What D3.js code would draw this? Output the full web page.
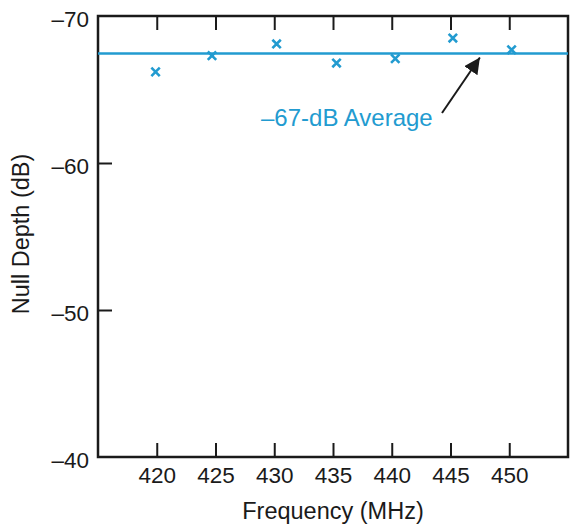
<!DOCTYPE html>
<html>
<head>
<meta charset="utf-8">
<script src="https://cdn.jsdelivr.net/npm/d3@7"></script>
<style>
  body { margin: 0; background: #fff; }
  svg text { font-family: "Liberation Sans", Arial, sans-serif; }
</style>
</head>
<body>
<div id="chart"></div>
<script>
// data
var freqs   = [419.9, 424.7, 430.2, 435.3, 440.3, 445.2, 450.2];
var depths  = [-66.2, -67.3, -68.1, -66.8, -67.1, -68.5, -67.7];
var average = -67.45;
var xTicks  = [420, 425, 430, 435, 440, 445, 450];
var yTicks  = [-70, -60, -50, -40];

var blue = '#229bd0';

var svgSize = { width: 571, height: 526 };
var plot = { left: 98, right: 568, top: 16, bottom: 457 };

var svg = d3.select('#chart').append('svg')
    .attr('width', svgSize.width)
    .attr('height', svgSize.height);

var x = d3.scaleLinear().domain([415, 455]).range([plot.left, plot.right]);
var y = d3.scaleLinear().domain([-70, -40]).range([plot.top, plot.bottom]);

var tickLen = 14;

// bottom axis, ticks pointing inward
var axBottom = svg.append('g')
    .attr('transform', 'translate(0,' + plot.bottom + ')')
    .call(d3.axisBottom(x).tickValues(xTicks).tickSizeInner(-tickLen).tickSizeOuter(0).tickPadding(10));
// top axis, no labels
var axTop = svg.append('g')
    .attr('transform', 'translate(0,' + plot.top + ')')
    .call(d3.axisTop(x).tickValues(xTicks).tickSizeInner(-tickLen).tickSizeOuter(0).tickFormat(''));
// left axis
var axLeft = svg.append('g')
    .attr('transform', 'translate(' + plot.left + ',0)')
    .call(d3.axisLeft(y).tickValues(yTicks).tickSizeInner(-tickLen).tickSizeOuter(0).tickPadding(9)
        .tickFormat(function(d) { return '\u2013' + Math.abs(d); }));

[axBottom, axTop, axLeft].forEach(function(g) {
    g.select('.domain').remove();
    g.selectAll('.tick line').attr('stroke', '#1a1a1a').attr('stroke-width', 2);
    g.selectAll('.tick text').attr('fill', '#1a1a1a').style('font-size', '22.5px');
});
axLeft.selectAll('.tick text').attr('dy', '0.45em');
axLeft.selectAll('.tick').filter(function(d) { return d === -70 || d === -40; }).select('line').remove();

// frame
svg.append('rect')
    .attr('x', plot.left).attr('y', plot.top)
    .attr('width', plot.right - plot.left).attr('height', plot.bottom - plot.top)
    .attr('fill', 'none').attr('stroke', '#1a1a1a').attr('stroke-width', 2.5);

// average line
svg.append('line')
    .attr('x1', plot.left).attr('x2', plot.right)
    .attr('y1', y(average)).attr('y2', y(average))
    .attr('stroke', blue).attr('stroke-width', 2.5);

// x markers
var r = 4.2;
svg.append('g').selectAll('path')
    .data(freqs.map(function(f, i) { return { f: f, v: depths[i] }; }))
    .enter().append('path')
    .attr('d', function(d) {
        var cx = x(d.f), cy = y(d.v);
        return 'M' + (cx - r) + ',' + (cy - r) + 'L' + (cx + r) + ',' + (cy + r) +
               'M' + (cx - r) + ',' + (cy + r) + 'L' + (cx + r) + ',' + (cy - r);
    })
    .attr('stroke', blue).attr('stroke-width', 2.6).attr('fill', 'none');

// annotation
svg.append('text')
    .attr('x', 261).attr('y', 126)
    .attr('fill', blue)
    .style('font-size', '24px')
    .text('\u201367-dB Average');

svg.append('defs').append('marker')
    .attr('id', 'arrow')
    .attr('viewBox', '0 0 10 10')
    .attr('refX', 10).attr('refY', 5)
    .attr('markerWidth', 16).attr('markerHeight', 16)
    .attr('markerUnits', 'userSpaceOnUse')
    .attr('orient', 'auto')
    .append('path').attr('d', 'M0,0L10,5L0,10Z').attr('fill', '#1a1a1a');

svg.append('line')
    .attr('x1', 442).attr('y1', 113)
    .attr('x2', x(447.5)).attr('y2', y(average) + 4)
    .attr('stroke', '#1a1a1a').attr('stroke-width', 2)
    .attr('marker-end', 'url(#arrow)');

// axis titles
svg.append('text')
    .attr('x', x(435)).attr('y', 519)
    .attr('text-anchor', 'middle')
    .attr('fill', '#1a1a1a')
    .style('font-size', '23.5px')
    .text('Frequency (MHz)');

svg.append('text')
    .attr('transform', 'translate(29,' + 234 + ') rotate(-90)')
    .attr('text-anchor', 'middle')
    .attr('fill', '#1a1a1a')
    .style('font-size', '23.5px')
    .text('Null Depth (dB)');
</script>
</body>
</html>
